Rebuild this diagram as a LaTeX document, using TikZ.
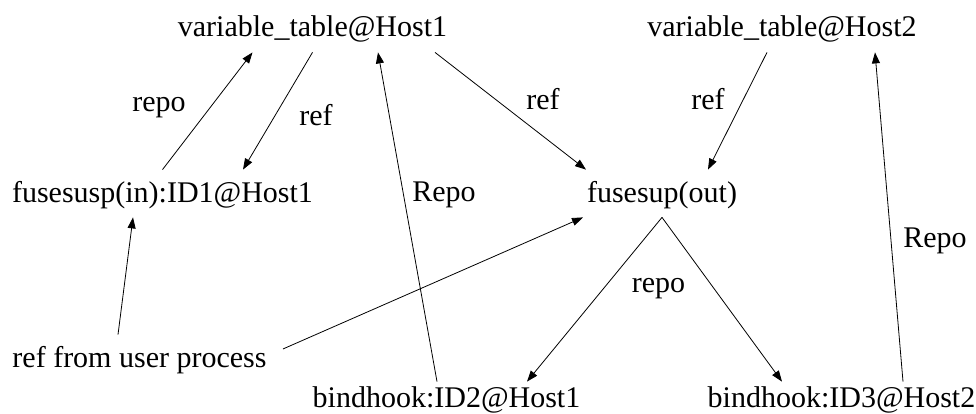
\documentclass[tikz,border=0pt]{standalone}
\usepackage{fontspec}
\setmainfont{Liberation Serif}
\tikzset{every picture/.style={/utils/exec={\fontsize{30pt}{36pt}\selectfont}}}
\usetikzlibrary{arrows.meta}

\begin{document}
\begin{tikzpicture}[x=1pt, y=-1pt,
  line width=0.8pt,
  >={Triangle[length=11pt,width=8pt]},
  host/.style={anchor=base, inner xsep=16pt, inner ysep=0pt, text height=32pt, text depth=15pt},
  lbl/.style={anchor=base, inner sep=0pt}
  ]
  \useasboundingbox (0,0) rectangle (976,414);

  \node [host] (vt1) at (312.5,37) {variable\_table@Host1};
  \node [host] (vt2) at (782,37) {variable\_table@Host2};
  \node [host] (fin) at (162.5,202) {fusesusp(in):ID1@Host1};
  \node [host] (fout) at (662,202) {fusesup(out)};
  \node [host] (user) at (139.5,367) {ref from user process};
  \node [host, text height=25pt, text depth=7pt] (bh1) at (446.5,407) {bindhook:ID2@Host1};
  \node [host, text height=25pt, text depth=7pt] (bh2) at (841.5,407) {bindhook:ID3@Host2};

  \draw [->] (fin.north) -- ([xshift=-60pt]vt1.south) node [lbl] at (159,112) {repo};
  \draw [->] (vt1.south) -- ([xshift=80.5pt]fin.north) node [lbl] at (316,126) {ref};
  \draw [->] ([xshift=-9.5pt]bh1.north) -- ([xshift=65.5pt]vt1.south) node [lbl] at (444,201) {Repo};
  \draw [->] ([xshift=122.5pt]vt1.south) -- ([xshift=-76pt]fout.north) node [lbl] at (543,110) {ref};
  \draw [->] ([xshift=-15pt]vt2.south) -- ([xshift=46pt]fout.north) node [lbl] at (708,110) {ref};
  \draw [->] ([xshift=61.5pt]bh2.north) -- ([xshift=93pt]vt2.south) node [lbl] at (935,247) {Repo};
  \draw [->] ([xshift=-21.5pt]user.north) -- ([xshift=-29.5pt]fin.south);
  \draw [->] ([yshift=9.5pt]user.east) -- ([xshift=-79pt]fout.south);
  \draw [->] (fout.south) -- ([xshift=80.5pt]bh1.north) node [lbl] at (658.5,292) {repo};
  \draw [->] (fout.south) -- ([xshift=-59.5pt]bh2.north);
\end{tikzpicture}
\end{document}
